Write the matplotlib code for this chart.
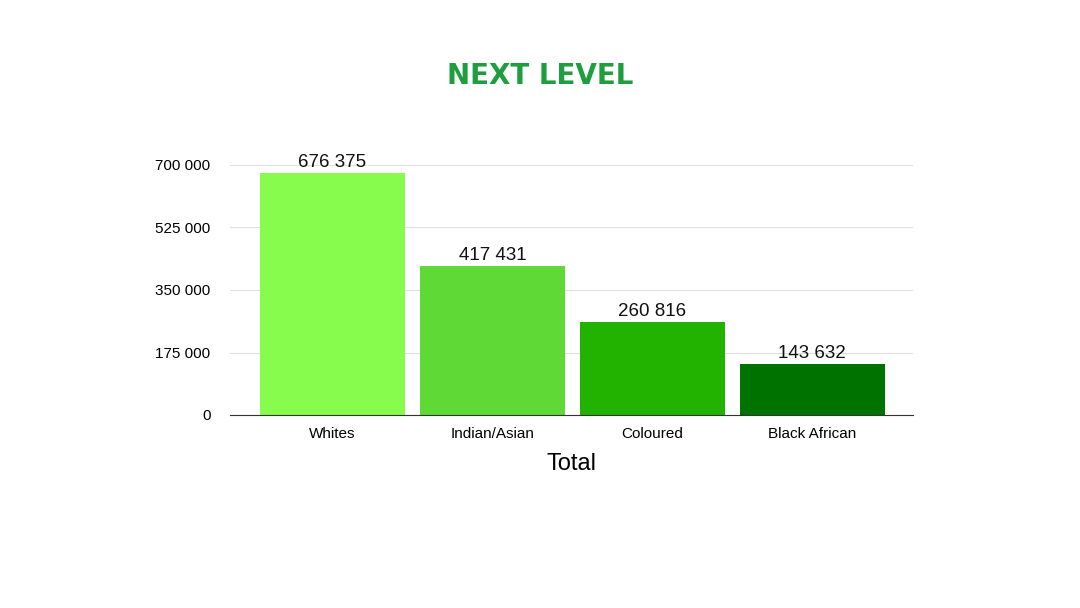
import matplotlib
matplotlib.use("Agg")
import matplotlib.pyplot as plt

plt.rcParams["font.family"] = ["Liberation Sans", "DejaVu Sans"]

categories = ["Whites", "Indian/Asian", "Coloured", "Black African"]
values = [676375, 417431, 260816, 143632]
colors = ["#88fc4c", "#5ed936", "#22b200", "#007200"]
yticks = [0, 175000, 350000, 525000, 700000]

def fmt(v):
    return f"{v:,}".replace(",", " ")

fig = plt.figure(figsize=(10.8, 6.08), dpi=100)
ax = fig.add_axes([230/1080, 1-415/608, 683/1080, 250/608])
x = range(len(categories))
ax.bar(x, values, width=0.906, color=colors, zorder=2)
for i, v in zip(x, values):
    ax.text(i, v + 6000, fmt(v), ha="center", va="bottom", fontsize=13.5, color="#111")
ax.set_xlim(-0.64, 3.63)
ax.set_ylim(0, 700000)
ax.set_yticks(yticks)
ax.set_yticklabels([fmt(t) for t in yticks], fontsize=11)
ax.set_xticks(list(x))
ax.set_xticklabels(categories, fontsize=11)
ax.tick_params(axis="x", length=0, pad=9)
ax.tick_params(axis="y", length=0, pad=14)
ax.grid(axis="y", color="#e0e0e0", lw=0.8, zorder=0)
for s in ["top", "right", "left"]:
    ax.spines[s].set_visible(False)
ax.spines["bottom"].set_color("#333")
ax.set_xlabel("Total", fontsize=17, labelpad=8)
fig.text(0.5, 1-76/608, "NEXT LEVEL", ha="center", va="center", fontsize=20,
         fontweight="bold", color="#1e9e3e", family="DejaVu Sans")
fig.savefig("out.png", dpi=100)
